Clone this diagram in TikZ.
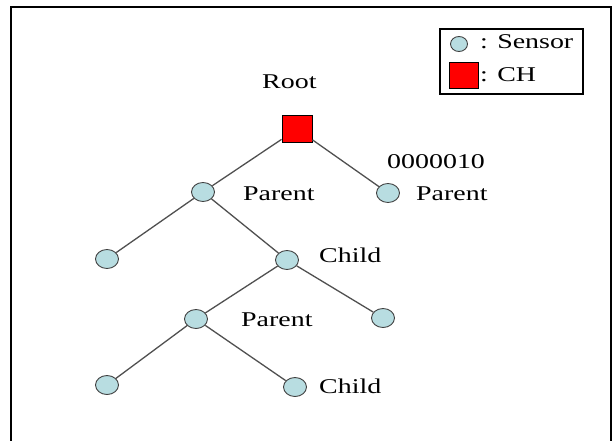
\documentclass[tikz,border=0pt]{standalone}
\usepackage{fontspec}
\setmainfont{Liberation Serif}[FakeStretch=1.33]
\usetikzlibrary{shapes.geometric}
\definecolor{sensorfill}{RGB}{184,221,225}
\definecolor{chred}{RGB}{255,0,0}
\definecolor{edgegray}{RGB}{80,80,80}
\tikzset{
  sensor/.style={ellipse, draw=black!75, line width=0.9pt, fill=sensorfill, minimum width=23pt, minimum height=19pt, inner sep=0pt},
  chbox/.style={rectangle, draw=black, line width=0.9pt, fill=chred, minimum width=30pt, minimum height=27pt, inner sep=0pt},
  lbl/.style={anchor=base west, inner sep=0pt, font=\fontsize{21}{25}\selectfont},
  link/.style={draw=edgegray, line width=1.3pt}
}
\begin{document}
\begin{tikzpicture}[x=1pt,y=-1pt]
\useasboundingbox (0,0) rectangle (613,441);
% frame
\draw[line width=2pt] (11,450) -- (11,7) -- (611,7) -- (611,450);
% legend
\draw[line width=1.2pt] (440,29) rectangle (583,94);
\node[sensor, minimum width=17pt, minimum height=15pt] (legS) at (459,44) {};
\node[chbox, minimum width=29pt, minimum height=26pt] (legC) at (464,75) {};
\node[lbl] (legSt) at (480,49) {: Sensor};
\node[lbl] (legCt) at (480,82) {: CH};
% tree nodes
\node[chbox] (root) at (297,129) {};
\node[sensor] (p1) at (203,192) {};
\node[sensor] (p2) at (388,193) {};
\node[sensor] (l1) at (107,259) {};
\node[sensor] (c1) at (287,260) {};
\node[sensor] (p3) at (196,319) {};
\node[sensor] (r1) at (383,318) {};
\node[sensor] (l2) at (107,385) {};
\node[sensor] (c2) at (295,387) {};
% edges
\draw[link] (root) -- (p1);
\draw[link] (root) -- (p2);
\draw[link] (p1) -- (l1);
\draw[link] (p1) -- (c1);
\draw[link] (c1) -- (p3);
\draw[link] (c1) -- (r1);
\draw[link] (p3) -- (l2);
\draw[link] (p3) -- (c2);
% labels
\node[lbl] (troot) at (262,89) {Root};
\node[lbl] (tp1) at (243,200) {Parent};
\node[lbl] (tcode) at (387,168) {0000010};
\node[lbl] (tp2) at (416,200) {Parent};
\node[lbl] (tc1) at (319,262) {Child};
\node[lbl] (tp3) at (241,326) {Parent};
\node[lbl] (tc2) at (319,393) {Child};
\end{tikzpicture}
\end{document}
